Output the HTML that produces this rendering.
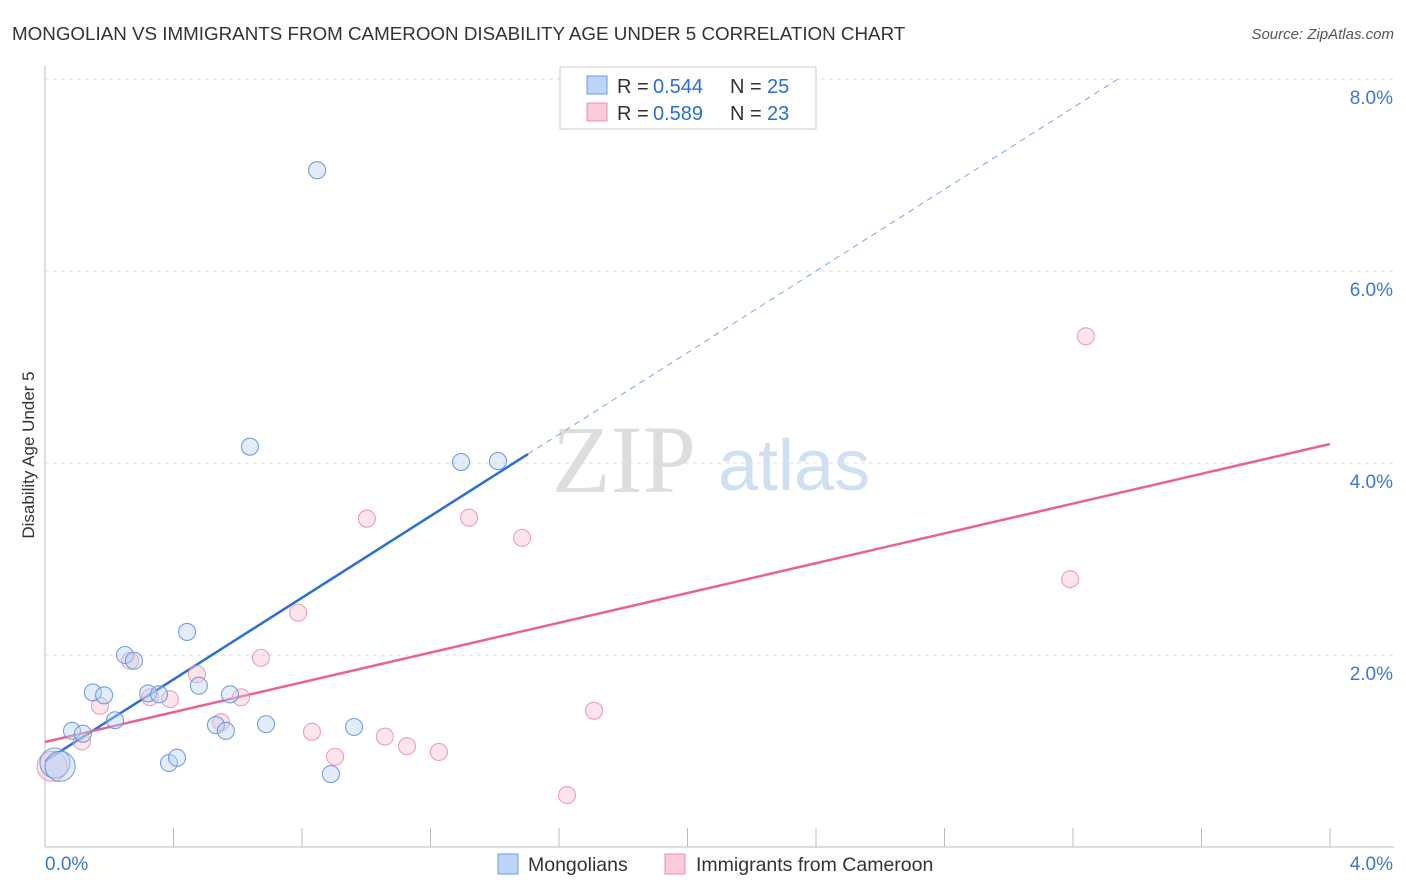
<!DOCTYPE html>
<html><head><meta charset="utf-8"><style>
body{margin:0;background:#fff;font-family:"Liberation Sans",sans-serif;}
svg{display:block}
</style></head><body>
<svg id="c" width="1406" height="892" xmlns="http://www.w3.org/2000/svg">
<text x="12" y="40" font-size="18.8" fill="#333">MONGOLIAN VS IMMIGRANTS FROM CAMEROON DISABILITY AGE UNDER 5 CORRELATION CHART</text>
<text x="1394" y="39" font-size="15" fill="#555" font-style="italic" text-anchor="end">Source: ZipAtlas.com</text>
<text x="34" y="455" font-size="17" fill="#333" text-anchor="middle" transform="rotate(-90 34 455)">Disability Age Under 5</text>
<g>
<text x="552" y="492" font-size="96" font-family="Liberation Serif,serif" fill="#ddd">ZIP</text>
<text x="718" y="490" font-size="72" fill="#cfe0f3">atlas</text>
</g>
<g id="grid"></g><g id="axes"></g><g id="lines"></g><g id="pts"></g>
<g>
<rect x="560" y="67" width="256" height="62" fill="#fff" stroke="#ccc"/>
<rect x="587" y="76" width="20" height="18" fill="#bcd4f5" stroke="#6a9be0"/>
<rect x="587" y="103" width="20" height="18" fill="#fbcbd9" stroke="#eb8fab"/>
<g font-size="20" fill="#333">
<text x="617" y="93">R =</text><text x="653" y="93" fill="#2a6fd6">0.544</text><text x="730" y="93">N =</text><text x="767" y="93" fill="#2a6fd6">25</text>
<text x="617" y="120">R =</text><text x="653" y="120" fill="#2a6fd6">0.589</text><text x="730" y="120">N =</text><text x="767" y="120" fill="#2a6fd6">23</text>
</g>
</g>
<g>
<rect x="498" y="854" width="20" height="20" fill="#bcd4f5" stroke="#6a9be0"/>
<text x="528" y="871" font-size="19.5" fill="#333">Mongolians</text>
<rect x="665" y="854" width="20" height="20" fill="#fbcbd9" stroke="#eb8fab"/>
<text x="696" y="871" font-size="19.5" fill="#333">Immigrants from Cameroon</text>
</g>
</svg>
<script>
const yTicks=[2,4,6,8];
const yTickLabels=["2.0%","4.0%","6.0%","8.0%"];
const xTickLabels=["0.0%","4.0%"];
const blueX=[0.847,0.638,1.295,1.410,0.442,0.249,0.277,0.149,0.184,0.321,0.355,0.479,0.576,0.218,0.084,0.118,0.532,0.563,0.688,0.962,0.386,0.411,0.890,0.031,0.047];
const blueY=[7.05,4.17,4.01,4.02,2.24,2.00,1.94,1.61,1.58,1.60,1.59,1.68,1.59,1.32,1.21,1.18,1.27,1.21,1.28,1.25,0.875,0.93,0.76,0.875,0.84];
const pinkX=[3.240,1.002,1.320,1.485,3.191,0.788,0.672,0.265,0.473,0.115,0.171,0.327,0.389,0.610,0.548,0.831,0.903,1.058,1.127,1.226,1.709,1.625,0.022];
const pinkY=[5.32,3.42,3.43,3.22,2.79,2.44,1.97,1.94,1.80,1.10,1.47,1.56,1.54,1.56,1.30,1.20,0.94,1.15,1.05,0.99,1.42,0.54,0.84];
const blueFit=[0.895,2.127];
const pinkFit=[1.094,0.776];
const NS="http://www.w3.org/2000/svg";
const X=v=>45+v*321.25, Y=v=>847-v*96;
function mk(tag,attrs,parent){const e=document.createElementNS(NS,tag);for(const k in attrs)e.setAttribute(k,attrs[k]);document.getElementById(parent).appendChild(e);return e;}
yTicks.forEach((t,i)=>{
 const g=mk('line',{x1:45,x2:1394,y1:Y(t),y2:Y(t),stroke:'#ddd','stroke-dasharray':'4,4'},'grid');
 
 
 const l=mk('text',{x:1393,y:Y(t)+25,'font-size':19,fill:'#3a78d8','text-anchor':'end'},'grid');
 l.textContent=yTickLabels[i];
 
 
});
const ax=mk('line',{x1:45,x2:45,y1:66,y2:847,stroke:'#bbb'},'axes');


const bx=mk('line',{x1:45,x2:1394,y1:847,y2:847,stroke:'#bbb'},'axes');


for(let i=1;i<=10;i++){const t=mk('line',{x1:X(i*0.4),x2:X(i*0.4),y1:828,y2:847,stroke:'#bbb'},'axes');
 
 }
[[0,45,'start'],[4,1393,'end']].forEach((d,i)=>{const t=mk('text',{x:d[1],y:870,'font-size':19,fill:'#3a78d8','text-anchor':d[2]},'axes');t.textContent=xTickLabels[i];
 
 });
function pts(xs,ys,fill,stroke,name){xs.forEach((x,i)=>{const big=x<0.05&&ys[i]<0.9;
 const c=mk('circle',{cx:X(x),cy:Y(ys[i]),r:big?15:8.5,fill:fill,'fill-opacity':0.4,stroke:stroke,'stroke-width':1.1,'stroke-opacity':0.85},'pts');
 
 });}
pts(pinkX,pinkY,'#f8bfd0','#eb8fab','point-cameroon');
pts(blueX,blueY,'#b8d2f3','#5c90dc','point-mongolian');
const bEnd=1.5035;
const bl=mk('line',{x1:X(0),y1:Y(blueFit[0]),x2:X(bEnd),y2:Y(blueFit[0]+blueFit[1]*bEnd),stroke:'#2a6fd6','stroke-width':2.5},'lines');


const bEnd2=(8.0-blueFit[0])/blueFit[1];
const bd=mk('line',{x1:X(bEnd),y1:Y(blueFit[0]+blueFit[1]*bEnd),x2:X(bEnd2),y2:Y(8.0),stroke:'#7aa6e6','stroke-width':1,'stroke-dasharray':'6,5'},'lines');


const pl=mk('line',{x1:X(0),y1:Y(pinkFit[0]),x2:X(4),y2:Y(pinkFit[0]+pinkFit[1]*4),stroke:'#e8648e','stroke-width':2.5},'lines');


</script>
</body></html>
